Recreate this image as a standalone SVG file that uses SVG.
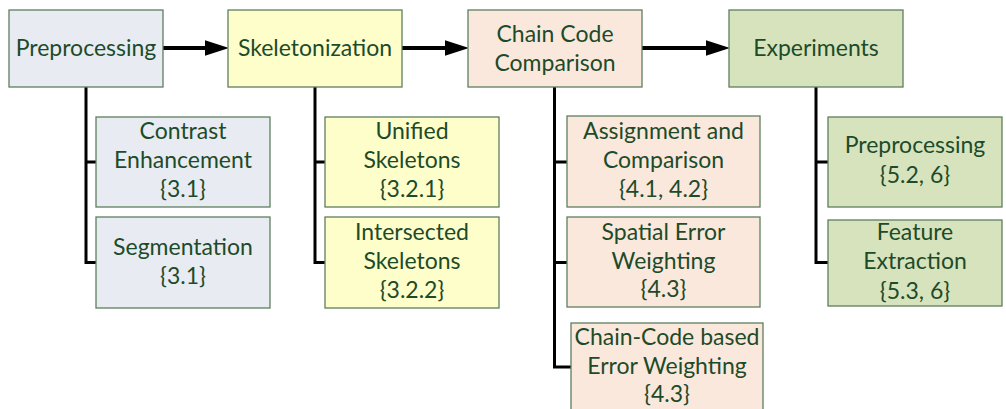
<svg xmlns="http://www.w3.org/2000/svg" width="1006" height="409" viewBox="0 0 1006 409">
<style>
  .box { stroke: #5f7f5f; stroke-width: 1.3; }
  .blue { fill: #e8ecf2; }
  .yellow { fill: #fefecb; }
  .peach { fill: #fbe8dc; }
  .green { fill: #d7e3bd; }
  text { font-family: Lato, "Liberation Sans", sans-serif; font-size: 23px; fill: #1d4b2a; text-anchor: middle; }
  .flow { stroke: #000; stroke-width: 4; fill: none; }
  .tree { stroke: #000; stroke-width: 3; fill: none; }
</style>
<defs>
  <marker id="ah" markerUnits="userSpaceOnUse" markerWidth="24" markerHeight="16" viewBox="0 0 23 15" refX="0" refY="7.5" orient="auto">
    <path d="M0,0 L23,7.5 L0,15 Z" fill="#000"/>
  </marker>
</defs>
<g id="connectors">
  <line class="flow" x1="163" y1="48" x2="205" y2="48" marker-end="url(#ah)"/>
  <line class="flow" x1="402" y1="48" x2="445" y2="48" marker-end="url(#ah)"/>
  <line class="flow" x1="642" y1="48" x2="706" y2="48" marker-end="url(#ah)"/>
  <path class="tree" d="M86,87 V262.5 H96 M86,162 H96"/>
  <path class="tree" d="M315,87 V262.5 H325 M315,162 H325"/>
  <path class="tree" d="M554.5,87 V367 H571 M554.5,162 H567 M554.5,262.5 H567"/>
  <path class="tree" d="M816,87 V262.5 H828 M816,162 H828"/>
</g>
<g id="preprocessing">
  <rect class="box blue" x="9" y="10" width="154" height="77"/>
  <text x="86" y="56">Preprocessing</text>
</g>
<g id="skeletonization">
  <rect class="box yellow" x="228" y="10" width="174" height="77"/>
  <text x="315" y="56">Skeletonization</text>
</g>
<g id="chaincode">
  <rect class="box peach" x="468" y="10" width="174" height="77"/>
  <text x="555" y="42">Chain Code</text>
  <text x="555" y="71">Comparison</text>
</g>
<g id="experiments">
  <rect class="box green" x="729" y="10" width="174" height="77"/>
  <text x="816" y="56">Experiments</text>
</g>
<g id="contrast">
  <rect class="box blue" x="96" y="117" width="174" height="90"/>
  <text x="183" y="139">Contrast</text>
  <text x="183" y="168">Enhancement</text>
  <text x="183" y="197">{3.1}</text>
</g>
<g id="segmentation">
  <rect class="box blue" x="96" y="217" width="174" height="91"/>
  <text x="183" y="255">Segmentation</text>
  <text x="183" y="284">{3.1}</text>
</g>
<g id="unified">
  <rect class="box yellow" x="325" y="117" width="174" height="90"/>
  <text x="412" y="139">Unified</text>
  <text x="412" y="168">Skeletons</text>
  <text x="412" y="197">{3.2.1}</text>
</g>
<g id="intersected">
  <rect class="box yellow" x="325" y="217" width="174" height="91"/>
  <text x="412" y="240">Intersected</text>
  <text x="412" y="269">Skeletons</text>
  <text x="412" y="298">{3.2.2}</text>
</g>
<g id="assignment">
  <rect class="box peach" x="567" y="116" width="193" height="91"/>
  <text x="663.5" y="139">Assignment and</text>
  <text x="663.5" y="168">Comparison</text>
  <text x="663.5" y="197">{4.1, 4.2}</text>
</g>
<g id="spatial">
  <rect class="box peach" x="567" y="217" width="193" height="90"/>
  <text x="663.5" y="240">Spatial Error</text>
  <text x="663.5" y="269">Weighting</text>
  <text x="663.5" y="297">{4.3}</text>
</g>
<g id="chaincodeweighting">
  <rect class="box peach" x="571" y="323" width="192" height="92"/>
  <text x="667" y="345">Chain-Code based</text>
  <text x="667" y="374">Error Weighting</text>
  <text x="667" y="402">{4.3}</text>
</g>
<g id="exp-preprocessing">
  <rect class="box green" x="828" y="117" width="174" height="90"/>
  <text x="915" y="153">Preprocessing</text>
  <text x="915" y="183">{5.2, 6}</text>
</g>
<g id="feature">
  <rect class="box green" x="828" y="220" width="174" height="86"/>
  <text x="915" y="240">Feature</text>
  <text x="915" y="269">Extraction</text>
  <text x="915" y="299">{5.3, 6}</text>
</g>
</svg>
